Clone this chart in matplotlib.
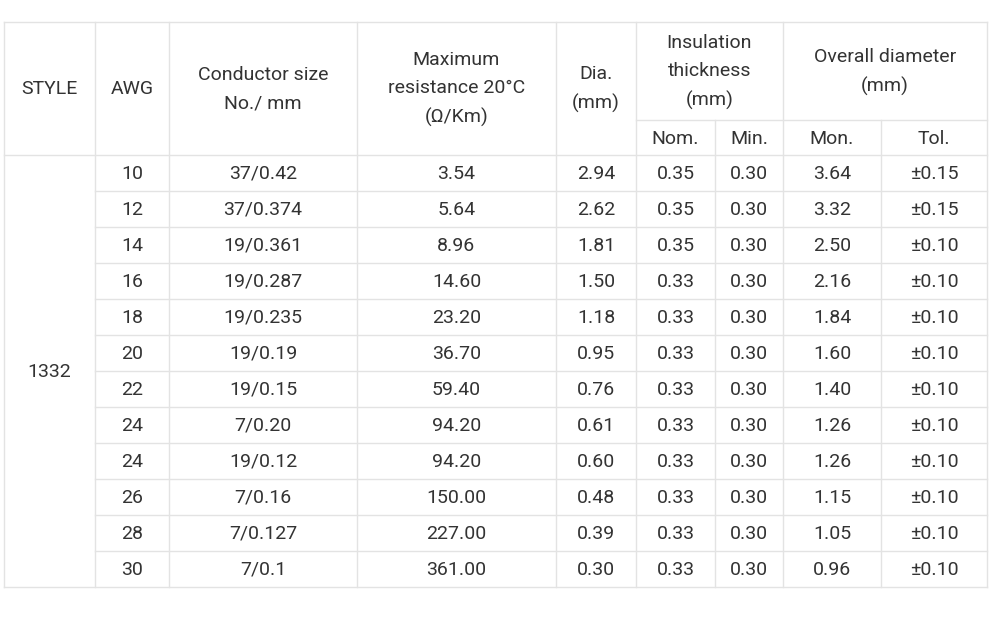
import matplotlib
matplotlib.use("Agg")
import matplotlib.pyplot as plt

plt.rcParams['font.family'] = ['Roboto', 'DejaVu Sans']

style = "1332"
awg = ["10","12","14","16","18","20","22","24","24","26","28","30"]
conductor = ["37/0.42","37/0.374","19/0.361","19/0.287","19/0.235","19/0.19","19/0.15","7/0.20","19/0.12","7/0.16","7/0.127","7/0.1"]
resistance = ["3.54","5.64","8.96","14.60","23.20","36.70","59.40","94.20","94.20","150.00","227.00","361.00"]
dia = ["2.94","2.62","1.81","1.50","1.18","0.95","0.76","0.61","0.60","0.48","0.39","0.30"]
ins_nom = ["0.35","0.35","0.35","0.33","0.33","0.33","0.33","0.33","0.33","0.33","0.33","0.33"]
ins_min = ["0.30"]*12
od_nom = ["3.64","3.32","2.50","2.16","1.84","1.60","1.40","1.26","1.26","1.15","1.05","0.96"]
od_tol = ["±0.15","±0.15"] + ["±0.10"]*10

fig = plt.figure(figsize=(9.9, 6.19), dpi=100)
ax = fig.add_axes([0, 0, 1, 1])
ax.set_xlim(0, 990); ax.set_ylim(619, 0); ax.axis('off')

xs = [4, 95, 169, 357, 556, 636, 715, 783, 881, 987]
top, mid, hb = 22, 120, 155
rh = 36
bottom = hb + rh * len(awg)
lc = '#e3e3e3'; tc = '#333333'; fs = 14

def hl(y, x0, x1): ax.plot([x0, x1], [y, y], color=lc, lw=1)
def vl(x, y0, y1): ax.plot([x, x], [y0, y1], color=lc, lw=1)

hl(top, xs[0], xs[-1]); hl(hb, xs[0], xs[-1]); hl(bottom, xs[0], xs[-1])
hl(mid, xs[5], xs[-1])
for i in range(1, len(awg)):
    hl(hb + i * rh, xs[1], xs[-1])
for i, x in enumerate(xs):
    if i in (6, 8):
        vl(x, mid, bottom)
    else:
        vl(x, top, bottom)

def t(x, y, s):
    ax.text(x, y + 1, s, ha='center', va='center', color=tc, fontsize=fs, linespacing=1.75)

c = lambda i: (xs[i] + xs[i + 1]) / 2
t(c(0), 88, "STYLE"); t(c(1), 88, "AWG")
t(c(2), 88, "Conductor size\nNo./ mm")
t(c(3), 88, "Maximum\nresistance 20°C\n(Ω/Km)")
t(c(4), 88, "Dia.\n(mm)")
t((xs[5] + xs[7]) / 2, 71, "Insulation\nthickness\n(mm)")
t((xs[7] + xs[9]) / 2, 71, "Overall diameter\n(mm)")
for i, s in zip(range(5, 9), ["Nom.", "Min.", "Mon.", "Tol."]):
    t(c(i), 137.5, s)
t(c(0), (hb + bottom) / 2, style)
cols = [awg, conductor, resistance, dia, ins_nom, ins_min, od_nom, od_tol]
for r in range(len(awg)):
    y = hb + rh * r + rh / 2
    for j, col in enumerate(cols):
        t(c(j + 1), y, col[r])

fig.savefig("out.png", dpi=100, facecolor='white')
